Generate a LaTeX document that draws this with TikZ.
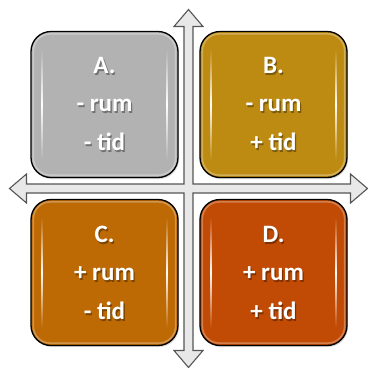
\documentclass[tikz,border=0pt]{standalone}
\usepackage{fontspec}
\setmainfont{Carlito}
\usetikzlibrary{calc,fadings,shadows}

\definecolor{quadA}{RGB}{178,178,178}
\definecolor{quadB}{RGB}{190,139,18}
\definecolor{quadC}{RGB}{189,105,4}
\definecolor{quadD}{RGB}{193,74,4}
\definecolor{axisfill}{RGB}{232,232,232}
\definecolor{axisline}{RGB}{85,85,85}

\tikzfading[name=fadeends, top color=transparent!100, bottom color=transparent!100, middle color=transparent!0]

\tikzset{
  quad/.style={rectangle, rounded corners=20pt, draw=black, line width=1.3pt,
    minimum width=147pt, minimum height=146pt, inner sep=0pt,
    drop shadow={shadow xshift=1pt, shadow yshift=-1.5pt, opacity=0.3}},
  label/.style={text=white, font=\bfseries\fontsize{25}{25}\selectfont, anchor=base, inner sep=0pt},
  labelshadow/.style={text=black, opacity=0.35, font=\bfseries\fontsize{25}{25}\selectfont, anchor=base, inner sep=0pt},
  sheen/.style={white, path fading=fadeends},
  rim/.style={draw=white, line width=1.6pt, opacity=0.3, rounded corners=17pt}
}

% one line of text with its soft shadow
\newcommand\quadline[3]{%
  \node[labelshadow] (#1s) at ($(#2)+(1.3,1.3)$) {#3};
  \node[label] (#1) at (#2) {#3};
}

% highlights along the inner left and right edges of a box
\newcommand\quadsheen[1]{%
  \fill[sheen] ($(#1.north west)+(10.5,18)$) rectangle ($(#1.south west)+(13,-18)$);
  \fill[sheen] ($(#1.north east)+(-13,18)$) rectangle ($(#1.south east)+(-10.5,-18)$);
  \draw[rim] ($(#1.north west)+(3,3)$) rectangle ($(#1.south east)+(-3,-3)$);
}

\begin{document}
\begin{tikzpicture}[x=1pt,y=-1pt]
\useasboundingbox (0,0) rectangle (368,368);

% four-headed axis cross
\begin{scope}[shift={(188.5,188.5)}]
  \draw[fill=axisfill, draw=axisline, line width=1.1pt, line join=miter]
    (0,-179) -- (14.5,-162) -- (4.5,-162) -- (4.5,-4.5) --
    (162,-4.5) -- (162,-14.5) -- (179,0) -- (162,14.5) -- (162,4.5) --
    (4.5,4.5) -- (4.5,162) -- (14.5,162) -- (0,179) -- (-14.5,162) --
    (-4.5,162) -- (-4.5,4.5) -- (-162,4.5) -- (-162,14.5) -- (-179,0) --
    (-162,-14.5) -- (-162,-4.5) -- (-4.5,-4.5) -- (-4.5,-162) --
    (-14.5,-162) -- cycle;
\end{scope}

% quadrants
\node[quad, fill=quadA] (A) at (104.5,104.5) {};
\node[quad, fill=quadB] (B) at (273.5,104.5) {};
\node[quad, fill=quadC] (C) at (104.5,272.5) {};
\node[quad, fill=quadD] (D) at (273.5,272.5) {};

\quadsheen{A}
\quadsheen{B}
\quadsheen{C}
\quadsheen{D}

% texts
\quadline{a1}{$(A.north)+(0,43)$}{A.}
\quadline{a2}{$(A.north)+(0,81)$}{- rum}
\quadline{a3}{$(A.north)+(0,120)$}{- tid}

\quadline{b1}{$(B.north)+(0,43)$}{B.}
\quadline{b2}{$(B.north)+(0,81)$}{- rum}
\quadline{b3}{$(B.north)+(0,120)$}{+ tid}

\quadline{c1}{$(C.north)+(0,44)$}{C.}
\quadline{c2}{$(C.north)+(0,82)$}{+ rum}
\quadline{c3}{$(C.north)+(0,121)$}{- tid}

\quadline{d1}{$(D.north)+(0,44)$}{D.}
\quadline{d2}{$(D.north)+(0,82)$}{+ rum}
\quadline{d3}{$(D.north)+(0,121)$}{+ tid}
\end{tikzpicture}
\end{document}
